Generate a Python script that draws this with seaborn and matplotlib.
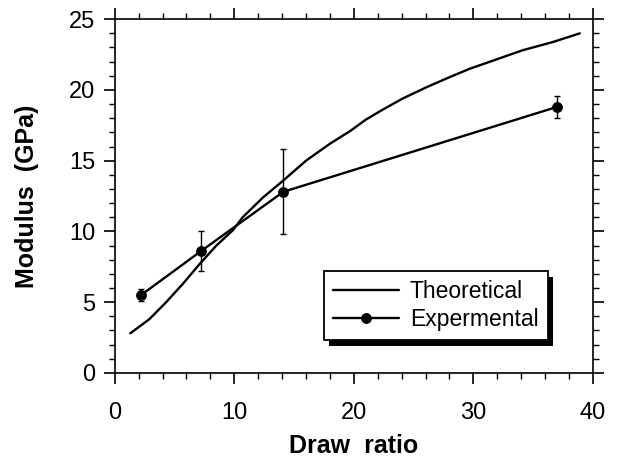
import numpy as np
import pandas as pd
import matplotlib
matplotlib.use("Agg")
import matplotlib.pyplot as plt
import matplotlib.patheffects as pe
import seaborn as sns
from matplotlib.ticker import MultipleLocator

# theoretical curve
theo_x = [1.3, 2.9, 4.3, 5.7, 7.1, 8.5, 9.9, 10.7, 12.4, 14.1, 16.0, 18.0, 19.7,
          21.0, 22.4, 24.1, 26.1, 28.0, 29.7, 31.4, 34.1, 36.7, 38.9]
theo_y = [2.8, 3.8, 5.0, 6.3, 7.7, 9.0, 10.1, 11.0, 12.4, 13.6, 15.0, 16.2, 17.1,
          17.9, 18.6, 19.4, 20.2, 20.9, 21.5, 22.0, 22.8, 23.4, 24.0]

# experimental points with error bars
exp_x = [2.2, 7.2, 14.1, 37.0]
exp_y = [5.5, 8.6, 12.8, 18.8]
exp_err = [0.4, 1.4, 3.0, 0.8]

sns.set_style("white")
plt.rcParams['font.family'] = ['Liberation Sans', 'DejaVu Sans']
plt.rcParams['text.color'] = 'black'
plt.rcParams['axes.labelcolor'] = 'black'

fig = plt.figure(figsize=(6.17, 4.57), dpi=100)
ax = fig.add_axes([0.186, 0.184, 0.775, 0.774])

theo = pd.DataFrame({"x": theo_x, "y": theo_y})
expt = pd.DataFrame({"x": exp_x, "y": exp_y})

sns.lineplot(data=theo, x="x", y="y", ax=ax, color="black", lw=1.7,
             label="Theoretical")
sns.lineplot(data=expt, x="x", y="y", ax=ax, color="black", lw=1.7,
             marker="o", markersize=7, markeredgecolor="black",
             label="Expermental")
ax.errorbar(exp_x, exp_y, yerr=exp_err, fmt="none", ecolor="black",
            elinewidth=1.0, capsize=2.5, capthick=1.0)

ax.set_xlim(0, 40)
ax.set_ylim(0, 25)
ax.xaxis.set_major_locator(MultipleLocator(10))
ax.xaxis.set_minor_locator(MultipleLocator(2))
ax.yaxis.set_major_locator(MultipleLocator(5))
ax.yaxis.set_minor_locator(MultipleLocator(1))
ax.tick_params(which="both", direction="out", top=True, right=True,
               bottom=True, left=True, colors="black", labelsize=17)
ax.tick_params(which="major", length=8, width=1.2, pad=6)
ax.tick_params(which="minor", length=4, width=1.0)
ax.tick_params(axis="x", which="major", pad=13)
for s in ax.spines.values():
    s.set_color("black")
    s.set_linewidth(1.2)

ax.set_xlabel("Draw  ratio", fontsize=18, fontweight="bold", labelpad=7, color="black")
ax.set_ylabel("Modulus  (GPa)", fontsize=18, fontweight="bold", labelpad=22, color="black")

leg = ax.legend(loc="lower right", bbox_to_anchor=(0.905, 0.093), fontsize=16.5,
                frameon=True, fancybox=False, shadow=False,
                edgecolor="black", handlelength=2.9, handletextpad=0.45,
                borderpad=0.4, labelspacing=0.2, borderaxespad=0)
for t in leg.get_texts():
    t.set_color("black")
frame = leg.get_frame()
frame.set_linewidth(1.3)
frame.set_alpha(1)
frame.set_path_effects([pe.SimplePatchShadow(offset=(4, -4), shadow_rgbFace="black",
                                             alpha=1), pe.Normal()])

fig.savefig("out.png", dpi=100)
